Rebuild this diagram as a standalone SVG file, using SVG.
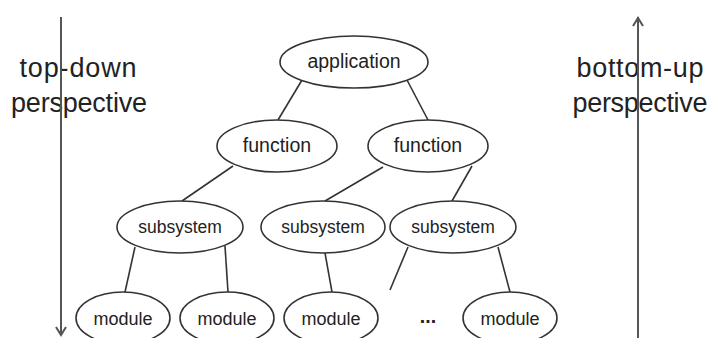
<svg xmlns="http://www.w3.org/2000/svg" width="713" height="338" viewBox="0 0 713 338">
<style>
.n ellipse{fill:#fff;stroke:#333;stroke-width:1.6}
.n text{font-family:"Liberation Sans",Arial,sans-serif;font-size:19.5px;fill:#222;text-anchor:middle}
.n text.s{font-size:17.5px}
.n text.m{font-size:18px}
.side{font-family:"Liberation Sans",Arial,sans-serif;font-size:27px;fill:#222;text-anchor:middle}
.c line{stroke:#333;stroke-width:1.6}
.ax{stroke:#555;stroke-width:2;fill:none}
</style>
<rect width="713" height="338" fill="#fff"/>
<text class="side" x="78" y="77" textLength="117">top-down</text>
<text class="side" x="79" y="112" textLength="136">perspective</text>
<text class="side" x="640" y="77" textLength="127">bottom-up</text>
<text class="side" x="640" y="112" textLength="135">perspective</text>
<g id="axes">
<line class="ax" x1="61" y1="17" x2="61" y2="335"/>
<polyline class="ax" points="56,327 61,335 66,327"/>
<line class="ax" x1="638" y1="17" x2="638" y2="338"/>
<polyline class="ax" points="633,26 638,18 643,26"/>
</g>
<g class="c" id="connectors">
<line x1="302" y1="80" x2="278" y2="120"/>
<line x1="407" y1="80" x2="428" y2="120"/>
<line x1="233" y1="166" x2="182" y2="201"/>
<line x1="383" y1="167" x2="325" y2="201"/>
<line x1="472" y1="166" x2="452" y2="201"/>
<line x1="135" y1="247" x2="125" y2="292"/>
<line x1="225" y1="246" x2="228" y2="292"/>
<line x1="325" y1="253" x2="332" y2="292"/>
<line x1="408" y1="247" x2="390" y2="290"/>
<line x1="498" y1="247" x2="510" y2="292"/>
</g>
<g class="n" id="application"><ellipse cx="354" cy="62" rx="74" ry="26"/><text x="354" y="68">application</text></g>
<g class="n" id="function1"><ellipse cx="277" cy="146" rx="60" ry="26"/><text x="277" y="152">function</text></g>
<g class="n" id="function2"><ellipse cx="428" cy="146" rx="60" ry="26"/><text x="428" y="152">function</text></g>
<g class="n" id="subsystem1"><ellipse cx="180" cy="227" rx="63" ry="26"/><text class="s" x="180" y="233">subsystem</text></g>
<g class="n" id="subsystem2"><ellipse cx="323" cy="227" rx="62" ry="26"/><text class="s" x="323" y="233">subsystem</text></g>
<g class="n" id="subsystem3"><ellipse cx="453" cy="227" rx="63" ry="26"/><text class="s" x="453" y="233">subsystem</text></g>
<g class="n" id="module1"><ellipse cx="123" cy="318" rx="47" ry="26"/><text class="m" x="123" y="325">module</text></g>
<g class="n" id="module2"><ellipse cx="227" cy="318" rx="47" ry="26"/><text class="m" x="227" y="325">module</text></g>
<g class="n" id="module3"><ellipse cx="331" cy="318" rx="47" ry="26"/><text class="m" x="331" y="325">module</text></g>
<g class="n" id="ellipsis"><text x="428" y="323" font-weight="bold">...</text></g>
<g class="n" id="module4"><ellipse cx="510" cy="318" rx="47" ry="26"/><text class="m" x="510" y="325">module</text></g>
</svg>
